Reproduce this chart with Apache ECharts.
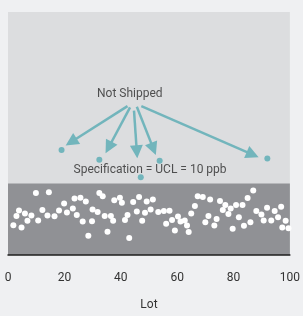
<!DOCTYPE html>
<html lang="en">
<head>
    <meta charset="UTF-8">
    <title>Lot chart</title>
    <script src="https://cdn.jsdelivr.net/npm/echarts@6/dist/echarts.min.js"></script>
    <style>
        html, body { margin: 0; padding: 0; background: #eff0f2; }
        #main { width: 303px; height: 316px; }
    </style>
</head>
<body>
<div id="main"></div>
<script>
    // lots that shipped (white dots)
    var shippedLot = [9.9, 14.5, 32.4, 33.6, 23.6, 25.7, 27.6, 19.9, 3.9, 6.0,
        3.0, 8.3, 12.2, 14.0, 16.5, 18.1, 20.9, 23.0, 24.4, 30.0,
        31.8, 34.3, 1.9, 4.8, 6.9, 10.7, 26.5, 29.8, 28.5, 37.7,
        39.7, 40.4, 44.4, 46.5, 49.2, 51.4, 36.5, 37.3, 42.4, 41.5,
        45.7, 48.6, 50.6, 47.6, 53.3, 55.3, 57.3, 66.3, 65.0, 56.1,
        58.2, 60.3, 61.2, 62.7, 63.5, 59.2, 64.1, 35.3, 43.0, 67.3,
        69.1, 71.7, 75.2, 77.1, 79.0, 80.9, 83.2, 85.0, 87.0, 76.2,
        78.2, 71.1, 74.0, 70.0, 73.2, 81.9, 79.7, 83.7, 86.0, 88.1,
        89.9, 91.9, 94.6, 96.9, 90.7, 93.4, 95.8, 98.5, 97.3, 99.5];
    var shippedPpb = [8.67, 8.77, 8.67, 8.22, 7.89, 8.02, 7.47, 7.20, 6.24, 5.82,
        5.44, 5.51, 6.29, 5.51, 5.41, 6.24, 5.96, 6.51, 5.60, 6.37,
        6.01, 5.46, 4.17, 3.85, 4.78, 4.82, 4.68, 4.72, 2.71, 7.67,
        8.02, 7.30, 7.43, 8.12, 7.47, 7.75, 5.46, 4.78, 5.60, 4.91,
        6.10, 5.92, 6.37, 4.78, 6.01, 6.15, 6.19, 6.84, 5.82, 4.36,
        4.91, 5.37, 4.68, 4.82, 4.13, 3.44, 3.21, 3.26, 2.38, 8.22,
        8.12, 7.75, 7.57, 6.98, 6.51, 6.98, 6.98, 7.98, 9.04, 6.29,
        5.74, 5.46, 5.05, 4.58, 4.13, 5.27, 3.68, 4.09, 4.58, 6.15,
        5.68, 6.61, 6.15, 6.74, 4.82, 4.82, 5.27, 4.78, 3.85, 3.76];

    // lots above the spec limit (teal dots)
    var rejectLot = [19.0, 32.4, 47.1, 53.8, 92.0];
    var rejectPpb = [14.69, 13.31, 10.87, 13.17, 13.49];

    // arrows from the label to each rejected lot
    var arrowFromLot = [42.4, 43.3, 44.7, 45.7, 47.3];
    var arrowFromPpb = [20.83, 20.65, 20.19, 20.74, 20.83];
    var arrowToLot = [22.4, 35.7, 45.7, 51.6, 86.8];
    var arrowToPpb = [15.82, 15.04, 14.45, 14.85, 14.05];

    var specLimit = 10;
    var xTicks = [0, 20, 40, 60, 80, 100];

    var noteText = ['Not Shipped', 'Specification = UCL = 10 ppb'];
    var noteLot = [43.2, 50.4];
    var notePpb = [22.57, 11.93];

    var font = 'Roboto, sans-serif';
    var teal = '#72b5bc';

    function zip(a, b) {
        var out = [];
        for (var i = 0; i < a.length; i++) out.push([a[i], b[i]]);
        return out;
    }

    var arrows = [];
    for (var i = 0; i < arrowFromLot.length; i++) {
        arrows.push({ coords: [[arrowFromLot[i], arrowFromPpb[i]], [arrowToLot[i], arrowToPpb[i]]] });
    }

    var notes = [];
    for (var j = 0; j < noteText.length; j++) {
        notes.push({ value: [noteLot[j], notePpb[j]], name: noteText[j] });
    }

    var myChart = echarts.init(document.getElementById('main'));
    var option = {
        backgroundColor: '#eff0f2',
        animation: false,
        grid: {
            left: 8, right: 11, top: 12, bottom: 57,
            show: true, backgroundColor: '#dcdddf', borderWidth: 0
        },
        xAxis: {
            type: 'value',
            z: 10,
            min: xTicks[0], max: xTicks[xTicks.length - 1], interval: 20,
            name: 'Lot', nameLocation: 'middle', nameGap: 44,
            nameTextStyle: { fontFamily: font, fontSize: 12, color: '#333' },
            axisLine: { show: true, onZero: false, lineStyle: { color: '#1e1e1e', width: 1.5 } },
            axisTick: { show: false },
            splitLine: { show: false },
            axisLabel: { fontFamily: font, fontSize: 12, color: '#333', margin: 17 }
        },
        yAxis: {
            type: 'value', min: 0, max: 34,
            show: false, splitLine: { show: false }
        },
        series: [
            {
                type: 'scatter',
                data: zip(shippedLot, shippedPpb),
                symbolSize: 6,
                itemStyle: { color: '#ffffff', opacity: 1 },
                markArea: {
                    silent: true,
                    itemStyle: { color: '#909195', opacity: 1 },
                    data: [[{ yAxis: 0 }, { yAxis: specLimit }]]
                },
                z: 3
            },
            {
                type: 'scatter',
                data: zip(rejectLot, rejectPpb),
                symbolSize: 6,
                itemStyle: { color: teal, opacity: 1 },
                z: 3
            },
            {
                type: 'lines',
                coordinateSystem: 'cartesian2d',
                data: arrows,
                symbol: ['none', 'triangle'],
                symbolSize: [11, 13],
                lineStyle: { color: teal, width: 2.5, opacity: 1, curveness: 0 },
                itemStyle: { color: teal },
                z: 4
            },
            {
                type: 'scatter',
                data: notes,
                symbolSize: 0,
                silent: true,
                label: {
                    show: true, position: 'inside',
                    formatter: '{b}',
                    fontFamily: font, fontSize: 12, color: '#2a2a2a'
                },
                z: 5
            }
        ]
    };
    myChart.setOption(option);
</script>
</body>
</html>
